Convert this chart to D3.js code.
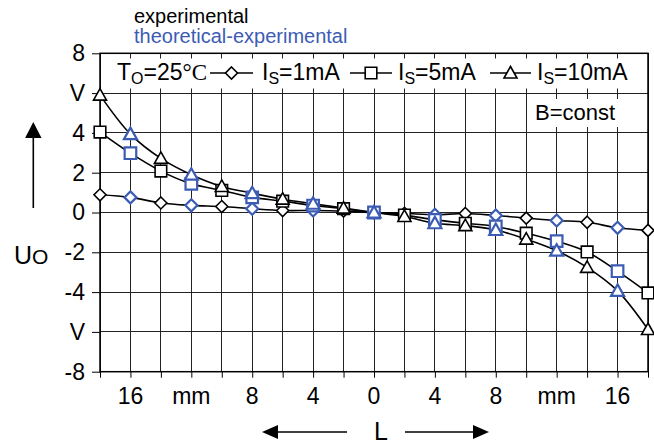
<html>
<head>
<meta charset="utf-8">
<title>Hall voltage vs position</title>
<script src="https://d3js.org/d3.v7.min.js"></script>
<style>
  body { margin: 0; background: #fff; }
  text { font-family: "Liberation Sans", Arial, sans-serif; fill: #000; }
</style>
</head>
<body>
<div id="chart"></div>
<script>
// Input data: position L (mm) and output voltage U_O (V) for three supply currents
var L = [-18, -16, -14, -12, -10, -8, -6, -4, -2, 0, 2, 4, 6, 8, 10, 12, 14, 16, 18]
var u1mA  = [0.89, 0.76, 0.48, 0.36, 0.30, 0.19, 0.10, 0.10, 0.07, 0, -0.04, -0.11, -0.05, -0.15, -0.28, -0.40, -0.49, -0.77, -0.90]
var u5mA  = [4.04, 2.98, 2.08, 1.44, 1.11, 0.76, 0.57, 0.35, 0.19, 0, -0.13, -0.37, -0.54, -0.70, -1.04, -1.44, -1.98, -2.95, -4.04]
var u10mA = [5.90, 3.94, 2.72, 1.90, 1.31, 0.97, 0.67, 0.44, 0.22, 0, -0.20, -0.54, -0.66, -0.88, -1.34, -1.92, -2.76, -3.94, -5.88]
// which points are experimental (black) and which theoretical-experimental (blue)
var source = ["exp","theo","exp","theo","exp","theo","exp","theo","exp","theo",
              "exp","theo","exp","theo","exp","theo","exp","theo","exp"]

var yTicks = [-8, -6, -4, -2, 0, 2, 4, 6, 8]
var yTickLabels = ["-8", "V", "-4", "-2", "0", "2", "4", "V", "8"]
var xTicks = [-18, -16, -14, -12, -10, -8, -6, -4, -2, 0, 2, 4, 6, 8, 10, 12, 14, 16, 18]
var xLabelPos = [-16, -12, -8, -4, 0, 4, 8, 12, 16]
var xLabelText = ["16", "mm", "8", "4", "0", "4", "8", "mm", "16"]

var W = 654, H = 445
var pL = 100, pR = 648, pT = 53.3, pB = 371.7
var blue = "#3c5cb4"

var svg = d3.select("#chart").append("svg")
    .attr("width", W)
    .attr("height", H)

var x = d3.scaleLinear().domain([-18, 18]).range([pL, pR])
var y = d3.scaleLinear().domain([-8, 8]).range([pB, pT])

// grid
var grid = svg.append("g").attr("stroke", "#222").attr("stroke-width", 1)
    .attr("shape-rendering", "crispEdges")
grid.selectAll("line.v").data(xTicks).enter().append("line")
    .attr("x1", d => x(d)).attr("x2", d => x(d))
    .attr("y1", pT).attr("y2", pB)
grid.selectAll("line.h").data(yTicks).enter().append("line")
    .attr("x1", pL).attr("x2", pR)
    .attr("y1", d => y(d)).attr("y2", d => y(d))

// axes (ticks outside)
var yAxis = d3.axisLeft(y).tickValues(yTicks).tickSize(8).tickPadding(7)
    .tickFormat((d, i) => yTickLabels[i])
var gy = svg.append("g").attr("transform", "translate(" + pL + ",0)").call(yAxis)
gy.select(".domain").remove()
gy.selectAll("text").style("font-size", "23px").style("font-family", "Liberation Sans, Arial")

var xAxis = d3.axisBottom(x).tickValues(xTicks).tickSize(6).tickFormat("")
var gx = svg.append("g").attr("transform", "translate(0," + pB + ")").call(xAxis)
gx.select(".domain").remove()
svg.append("g").selectAll("text").data(xLabelPos).enter().append("text")
    .attr("x", d => x(d)).attr("y", 404)
    .attr("text-anchor", "middle")
    .style("font-size", "23px")
    .text((d, i) => xLabelText[i])

// white boxes behind legend texts
svg.append("rect").attr("x", 104).attr("y", 58.5).attr("width", 540).attr("height", 30).attr("fill", "#fff")
svg.append("rect").attr("x", 530).attr("y", 99).attr("width", 114).attr("height", 28).attr("fill", "#fff")

// frame
svg.append("rect").attr("x", pL).attr("y", pT)
    .attr("width", pR - pL).attr("height", pB - pT)
    .attr("fill", "none").attr("stroke", "#000").attr("stroke-width", 1.5)

// curves
var series = [
  {vals: u1mA, shape: "diamond"},
  {vals: u5mA, shape: "square"},
  {vals: u10mA, shape: "triangle"}
]
var line = d3.line().curve(d3.curveCatmullRom.alpha(0.5))
    .x((d, i) => x(L[i])).y(d => y(d))

function shapePath(s) {
  if (s == "diamond") return "M0,-6L6,0L0,6L-6,0Z"
  if (s == "square") return "M-5.8,-5.8H5.8V5.8H-5.8Z"
  return "M0,-6.5L6.5,5L-6.5,5Z"
}

series.forEach(function(s) {
  svg.append("path").attr("d", line(s.vals))
    .attr("fill", "none").attr("stroke", "#000").attr("stroke-width", 1.6)
})
series.forEach(function(s) {
  svg.append("g").selectAll("path").data(s.vals).enter().append("path")
    .attr("d", shapePath(s.shape))
    .attr("transform", (d, i) => "translate(" + x(L[i]) + "," + y(d) + ")")
    .attr("fill", "#fff")
    .attr("stroke", (d, i) => source[i] == "exp" ? "#000" : blue)
    .attr("stroke-width", (d, i) => source[i] == "exp" ? 1.6 : 2.2)
})

// legend row
var leg = svg.append("g").style("font-size", "23px")
var t0 = leg.append("text").attr("x", 117).attr("y", 80)
t0.append("tspan").text("T")
t0.append("tspan").attr("dy", 4).style("font-size", "16px").text("O")
t0.append("tspan").attr("dy", -4).text("=25")
t0.append("tspan").style("font-family", "Liberation Serif, Times New Roman, serif").text("°C")

var legItems = [
  {shape: "diamond", x1: 210, x2: 253, tx: 262, lab: "1mA"},
  {shape: "square", x1: 350, x2: 392, tx: 398, lab: "5mA"},
  {shape: "triangle", x1: 490, x2: 531, tx: 537, lab: "10mA"}
]
legItems.forEach(function(it) {
  leg.append("line").attr("x1", it.x1).attr("x2", it.x2).attr("y1", 73).attr("y2", 73)
    .attr("stroke", "#000").attr("stroke-width", 1.6)
  leg.append("path").attr("d", shapePath(it.shape))
    .attr("transform", "translate(" + (it.x1 + it.x2) / 2 + ",73)")
    .attr("fill", "#fff").attr("stroke", "#000").attr("stroke-width", 1.6)
  var t = leg.append("text").attr("x", it.tx).attr("y", 80)
  t.append("tspan").text("I")
  t.append("tspan").attr("dy", 4).style("font-size", "16px").text("S")
  t.append("tspan").attr("dy", -4).text("=" + it.lab)
})

svg.append("text").attr("x", 535).attr("y", 119.5).style("font-size", "22px").text("B=const")

// header
svg.append("text").attr("x", 134).attr("y", 23).style("font-size", "20px").text("experimental")
svg.append("text").attr("x", 134).attr("y", 43).style("font-size", "20px")
    .style("fill", blue).text("theoretical-experimental")

// y label with arrow
svg.append("line").attr("x1", 33.3).attr("x2", 33.3).attr("y1", 208).attr("y2", 130)
    .attr("stroke", "#000").attr("stroke-width", 1.6)
svg.append("path").attr("d", "M33.3,122L41.5,138L25.1,138Z").attr("fill", "#000")
var uo = svg.append("text").attr("x", 14).attr("y", 264).style("font-size", "25px")
uo.append("tspan").text("U")
uo.append("tspan").style("font-size", "21px").text("O")

// x label with arrows
svg.append("text").attr("x", 381).attr("y", 440).attr("text-anchor", "middle")
    .style("font-size", "25px").text("L")
svg.append("line").attr("x1", 347).attr("x2", 270).attr("y1", 432).attr("y2", 432)
    .attr("stroke", "#000").attr("stroke-width", 1.6)
svg.append("path").attr("d", "M262,432L278,425L278,439Z").attr("fill", "#000")
svg.append("line").attr("x1", 405).attr("x2", 480).attr("y1", 432).attr("y2", 432)
    .attr("stroke", "#000").attr("stroke-width", 1.6)
svg.append("path").attr("d", "M489,432L473,425L473,439Z").attr("fill", "#000")
</script>
</body>
</html>
